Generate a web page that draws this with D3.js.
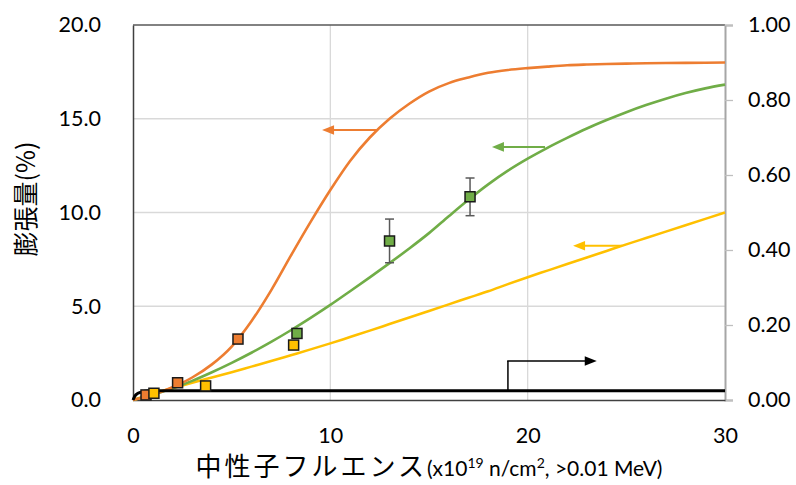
<!DOCTYPE html>
<html><head><meta charset="utf-8">
<script src="https://cdn.jsdelivr.net/npm/d3@7"></script>
<style>
body{margin:0;background:#fff}
svg text{font-family:Lato,"Noto Sans CJK JP",sans-serif;fill:#000}
</style></head>
<body><svg id="c" width="796" height="485"></svg>
<script>
// ---- data ----
const fluence = [0,1,2,3,4,5,6,7,8,9,10,11,12,13,14,15,16,17,18,19,20,21,22,23,24,25,26,27,28,29,30];
const orangeCurve = [0,0.28,0.68,1.2,1.9,2.85,4.2,5.85,7.7,9.5,11.2,12.75,14.0,15.0,15.8,16.45,16.9,17.2,17.45,17.6,17.7,17.78,17.85,17.89,17.92,17.94,17.96,17.97,17.98,17.99,18.0];
const greenCurve = [0,0.28,0.62,1.02,1.48,1.98,2.52,3.1,3.72,4.38,5.07,5.8,6.54,7.3,8.08,8.9,9.8,10.68,11.5,12.23,12.87,13.45,13.98,14.48,14.93,15.35,15.73,16.07,16.37,16.62,16.82];
const yellowCurve = [0,0.33,0.63,0.92,1.2,1.48,1.78,2.08,2.39,2.7,3.02,3.36,3.7,4.05,4.4,4.75,5.1,5.45,5.8,6.18,6.55,6.9,7.25,7.6,7.95,8.3,8.64,8.98,9.32,9.66,10.0];
const blackX = [0,0.1,0.25,0.5,0.8,1.2,30];
const blackY = [0,0.011,0.018,0.022,0.024,0.025,0.025]; // right axis

const orangePtsX = [0.66,2.26,5.32], orangePtsY = [0.27,0.92,3.25];
const yellowPtsX = [1.06,3.68,8.14], yellowPtsY = [0.36,0.75,2.93];
const greenPtsX = [8.31,13.0,17.08], greenPtsY = [3.55,8.48,10.84];
const greenErrLo = [null,7.32,9.83], greenErrHi = [null,9.65,11.84];

// arrows: [xStart, xTip, y]  (left axis)
const orangeArrow = [12.42, 9.58, 14.4];
const greenArrow = [20.88, 18.19, 13.5];
const yellowArrow = [24.77, 22.3, 8.23];
// black arrow on right axis: x, yBase, yTop, xTip
const blackArrow = [19.0, 0.025, 0.104, 23.5];

const xTicks = [0,10,20,30];
const yTicks = [0,5,10,15,20];
const y2Ticks = [0,0.2,0.4,0.6,0.8,1.0];

const C = {orange:"#ED7D31", green:"#70AD47", yellow:"#FFC000"};

// ---- layout ----
const W=796,H=485, m={l:133,r:71,t:25,b:85};
const svg=d3.select("#c");
const x=d3.scaleLinear().domain([0,30]).range([m.l,W-m.r]);
const y=d3.scaleLinear().domain([0,20]).range([H-m.b,m.t]);
const y2=d3.scaleLinear().domain([0,1]).range([H-m.b,m.t]);

// gridlines
svg.append("g").selectAll("line").data(yTicks.filter(d=>d>0&&d<20)).join("line")
  .attr("x1",x(0)).attr("x2",x(30)).attr("y1",d=>y(d)).attr("y2",d=>y(d))
  .attr("stroke","#d9d9d9").attr("stroke-width",1.3);
svg.append("g").selectAll("line").data(xTicks.filter(d=>d>0&&d<30)).join("line")
  .attr("y1",y(0)).attr("y2",y(20)).attr("x1",d=>x(d)).attr("x2",d=>x(d))
  .attr("stroke","#d9d9d9").attr("stroke-width",1.3);

// frame top
svg.append("line").attr("x1",x(0)).attr("x2",x(30)).attr("y1",y(20)).attr("y2",y(20)).attr("stroke","#595959").attr("stroke-width",1.3);

// left axis
const gy=svg.append("g").attr("transform",`translate(${x(0)},0)`)
  .call(d3.axisLeft(y).tickValues(yTicks).tickFormat(d3.format(".1f")).tickSize(0).tickPadding(32));
gy.select(".domain").attr("stroke","#404040").attr("stroke-width",1.5);
gy.selectAll("text").style("font-size","21.5px").attr("font-family",null);

// right axis
const gy2=svg.append("g").attr("transform",`translate(${x(30)},0)`)
  .call(d3.axisRight(y2).tickValues(y2Ticks).tickFormat(d3.format(".2f")).tickSize(8).tickPadding(15));
gy2.select(".domain").attr("stroke","#a6a6a6").attr("stroke-width",2);
gy2.selectAll(".tick line").attr("stroke","#bfbfbf").attr("stroke-width",1.3);
gy2.selectAll("text").style("font-size","21.5px").attr("font-family",null);

// bottom axis
const gx=svg.append("g").attr("transform",`translate(0,${y(0)})`)
  .call(d3.axisBottom(x).tickValues(xTicks).tickSize(0).tickPadding(28));
gx.select(".domain").attr("stroke","#404040").attr("stroke-width",1.5);
gx.selectAll("text").style("font-size","21.5px").attr("font-family",null);

// curves
const line=d3.line().x(d=>x(d[0])).y(d=>y(d[1])).curve(d3.curveMonotoneX);
[[yellowCurve,C.yellow],[greenCurve,C.green],[orangeCurve,C.orange]].forEach(([arr,col])=>{
  svg.append("path").datum(fluence.map((f,i)=>[f,arr[i]])).attr("d",line)
    .attr("fill","none").attr("stroke",col).attr("stroke-width",2.6);
});
const line2=d3.line().x(d=>x(d[0])).y(d=>y2(d[1])).curve(d3.curveMonotoneX);
svg.append("path").datum(blackX.map((f,i)=>[f,blackY[i]])).attr("d",line2)
  .attr("fill","none").attr("stroke","#000").attr("stroke-width",3);

// arrows
function arrow(x1,xt,yy,col,sw){
  const dir = xt<x1?-1:1, L=12, hw=4.8;
  svg.append("line").attr("x1",x1).attr("x2",xt-dir*L+dir*1).attr("y1",yy).attr("y2",yy)
    .attr("stroke",col).attr("stroke-width",sw);
  svg.append("path").attr("d",`M${xt},${yy}L${xt-dir*L},${yy-hw}L${xt-dir*L},${yy+hw}Z`).attr("fill",col);
}
arrow(x(orangeArrow[0]),x(orangeArrow[1]),y(orangeArrow[2]),C.orange,2);
arrow(x(greenArrow[0]),x(greenArrow[1]),y(greenArrow[2]),C.green,2);
arrow(x(yellowArrow[0]),x(yellowArrow[1]),y(yellowArrow[2]),C.yellow,2);
svg.append("line").attr("x1",x(blackArrow[0])).attr("x2",x(blackArrow[0]))
  .attr("y1",y2(blackArrow[1])).attr("y2",y2(blackArrow[2])).attr("stroke","#000").attr("stroke-width",1.5);
arrow(x(blackArrow[0])-0.75,x(blackArrow[3]),y2(blackArrow[2]),"#000",1.5);

// error bars
greenPtsX.forEach((gxv,i)=>{
  if(greenErrLo[i]==null) return;
  const g=svg.append("g").attr("stroke","#595959").attr("stroke-width",1.5);
  g.append("line").attr("x1",x(gxv)).attr("x2",x(gxv)).attr("y1",y(greenErrLo[i])).attr("y2",y(greenErrHi[i]));
  [greenErrLo[i],greenErrHi[i]].forEach(v=>g.append("line").attr("x1",x(gxv)-4.5).attr("x2",x(gxv)+4.5).attr("y1",y(v)).attr("y2",y(v)));
});

// markers
const S=10;
function squares(xs,ys,col){
  svg.append("g").selectAll("rect").data(xs.map((v,i)=>[v,ys[i]])).join("rect")
    .attr("x",d=>x(d[0])-S/2).attr("y",d=>y(d[1])-S/2).attr("width",S).attr("height",S)
    .attr("fill",col).attr("stroke","#1a1a1a").attr("stroke-width",1.5);
}
squares(orangePtsX,orangePtsY,C.orange);
squares(yellowPtsX,yellowPtsY,C.yellow);
squares(greenPtsX,greenPtsY,C.green);

// titles
svg.append("text").attr("transform",`translate(35,199) rotate(-90)`)
  .attr("text-anchor","middle").style("font-size","25px").style("font-family","'Noto Sans CJK JP',sans-serif")
  .text("膨張量(%)");
const xt=svg.append("text").attr("x",(m.l+W-m.r)/2).attr("y",476).attr("text-anchor","middle").style("font-size","21px");
xt.append("tspan").style("font-family","'Noto Sans CJK JP',sans-serif").style("font-size","26px").attr("letter-spacing","3px").text("中性子フルエンス");
xt.append("tspan").text("(x10");
xt.append("tspan").attr("dy",-8).style("font-size","14px").text("19");
xt.append("tspan").attr("dy",8).text(" n/cm");
xt.append("tspan").attr("dy",-8).style("font-size","14px").text("2");
xt.append("tspan").attr("dy",8).text(", >0.01 MeV)");
</script></body></html>
